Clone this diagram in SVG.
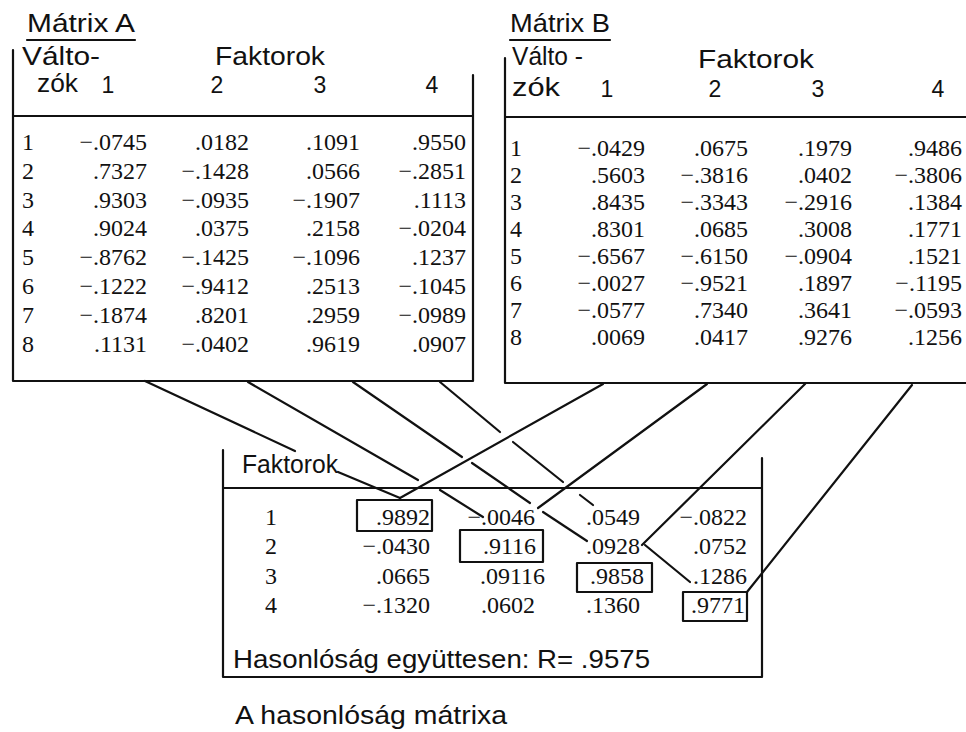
<svg xmlns="http://www.w3.org/2000/svg" width="966" height="732" viewBox="0 0 966 732">
<style>
.bg{fill:#fff}
.ln{stroke:#111;stroke-width:2.2;fill:none;stroke-linecap:round;stroke-linejoin:round}
.lt{font-family:"Liberation Sans",Arial,sans-serif;font-size:25px;fill:#111}
.ch{font-family:"Liberation Sans",Arial,sans-serif;font-size:23px;fill:#111;text-anchor:middle}
.num{font-family:"Liberation Serif","Times New Roman",serif;font-size:24px;fill:#111;text-anchor:end}
.rl{font-family:"Liberation Serif","Times New Roman",serif;font-size:24px;fill:#111}
.rc{font-family:"Liberation Serif","Times New Roman",serif;font-size:24px;fill:#111;text-anchor:middle}
</style>
<rect class="bg" x="0" y="0" width="966" height="732"/>

<g id="matrixA">
  <text class="lt" x="27" y="32" textLength="108" lengthAdjust="spacingAndGlyphs">Mátrix A</text>
  <line class="ln" x1="27" y1="40" x2="135" y2="40"/>
  <path class="ln" d="M13,50 V381 H473 V75"/>
  <line class="ln" x1="13" y1="116" x2="473" y2="116"/>
  <text class="lt" x="22" y="65" textLength="78" lengthAdjust="spacingAndGlyphs">Válto-</text>
  <text class="lt" x="215" y="65" textLength="110" lengthAdjust="spacingAndGlyphs">Faktorok</text>
  <text class="lt" x="37" y="92" textLength="41" lengthAdjust="spacingAndGlyphs">zók</text>
  <text class="ch" x="108" y="93">1</text>
  <text class="ch" x="217" y="93">2</text>
  <text class="ch" x="320" y="93">3</text>
  <text class="ch" x="432" y="93">4</text>
  <g>
    <text class="rl" x="22" y="150">1</text>
    <text class="num" x="147" y="150">−.0745</text><text class="num" x="249" y="150">.0182</text><text class="num" x="360" y="150">.1091</text><text class="num" x="466" y="150">.9550</text>
    <text class="rl" x="22" y="179">2</text>
    <text class="num" x="147" y="179">.7327</text><text class="num" x="249" y="179">−.1428</text><text class="num" x="360" y="179">.0566</text><text class="num" x="466" y="179">−.2851</text>
    <text class="rl" x="22" y="208">3</text>
    <text class="num" x="147" y="208">.9303</text><text class="num" x="249" y="208">−.0935</text><text class="num" x="360" y="208">−.1907</text><text class="num" x="466" y="208">.1113</text>
    <text class="rl" x="22" y="236">4</text>
    <text class="num" x="147" y="236">.9024</text><text class="num" x="249" y="236">.0375</text><text class="num" x="360" y="236">.2158</text><text class="num" x="466" y="236">−.0204</text>
    <text class="rl" x="22" y="265">5</text>
    <text class="num" x="147" y="265">−.8762</text><text class="num" x="249" y="265">−.1425</text><text class="num" x="360" y="265">−.1096</text><text class="num" x="466" y="265">.1237</text>
    <text class="rl" x="22" y="294">6</text>
    <text class="num" x="147" y="294">−.1222</text><text class="num" x="249" y="294">−.9412</text><text class="num" x="360" y="294">.2513</text><text class="num" x="466" y="294">−.1045</text>
    <text class="rl" x="22" y="323">7</text>
    <text class="num" x="147" y="323">−.1874</text><text class="num" x="249" y="323">.8201</text><text class="num" x="360" y="323">.2959</text><text class="num" x="466" y="323">−.0989</text>
    <text class="rl" x="22" y="352">8</text>
    <text class="num" x="147" y="352">.1131</text><text class="num" x="249" y="352">−.0402</text><text class="num" x="360" y="352">.9619</text><text class="num" x="466" y="352">.0907</text>
  </g>
</g>

<g id="matrixB">
  <text class="lt" x="510" y="32" textLength="100" lengthAdjust="spacingAndGlyphs">Mátrix B</text>
  <line class="ln" x1="510" y1="40" x2="610" y2="40"/>
  <path class="ln" d="M505,58 V383 H966"/>
  <line class="ln" x1="505" y1="117" x2="966" y2="117"/>
  <text class="lt" x="512" y="65" textLength="71" lengthAdjust="spacingAndGlyphs">Válto -</text>
  <text class="lt" x="698" y="68" textLength="116" lengthAdjust="spacingAndGlyphs">Faktorok</text>
  <text class="lt" x="512" y="96" textLength="48" lengthAdjust="spacingAndGlyphs">zók</text>
  <text class="ch" x="607" y="97">1</text>
  <text class="ch" x="715" y="97">2</text>
  <text class="ch" x="818" y="97">3</text>
  <text class="ch" x="938" y="97">4</text>
  <g>
    <text class="rl" x="510" y="156">1</text>
    <text class="num" x="645" y="156">−.0429</text><text class="num" x="748" y="156">.0675</text><text class="num" x="852" y="156">.1979</text><text class="num" x="962" y="156">.9486</text>
    <text class="rl" x="510" y="183">2</text>
    <text class="num" x="645" y="183">.5603</text><text class="num" x="748" y="183">−.3816</text><text class="num" x="852" y="183">.0402</text><text class="num" x="962" y="183">−.3806</text>
    <text class="rl" x="510" y="210">3</text>
    <text class="num" x="645" y="210">.8435</text><text class="num" x="748" y="210">−.3343</text><text class="num" x="852" y="210">−.2916</text><text class="num" x="962" y="210">.1384</text>
    <text class="rl" x="510" y="237">4</text>
    <text class="num" x="645" y="237">.8301</text><text class="num" x="748" y="237">.0685</text><text class="num" x="852" y="237">.3008</text><text class="num" x="962" y="237">.1771</text>
    <text class="rl" x="510" y="264">5</text>
    <text class="num" x="645" y="264">−.6567</text><text class="num" x="748" y="264">−.6150</text><text class="num" x="852" y="264">−.0904</text><text class="num" x="962" y="264">.1521</text>
    <text class="rl" x="510" y="291">6</text>
    <text class="num" x="645" y="291">−.0027</text><text class="num" x="748" y="291">−.9521</text><text class="num" x="852" y="291">.1897</text><text class="num" x="962" y="291">−.1195</text>
    <text class="rl" x="510" y="318">7</text>
    <text class="num" x="645" y="318">−.0577</text><text class="num" x="748" y="318">.7340</text><text class="num" x="852" y="318">.3641</text><text class="num" x="962" y="318">−.0593</text>
    <text class="rl" x="510" y="345">8</text>
    <text class="num" x="645" y="345">.0069</text><text class="num" x="748" y="345">.0417</text><text class="num" x="852" y="345">.9276</text><text class="num" x="962" y="345">.1256</text>
  </g>
</g>

<g id="similarity">
  <path class="ln" d="M223,450 V677 H762 V458"/>
  <line class="ln" x1="223" y1="488" x2="762" y2="488"/>
  <text class="lt" x="242" y="473" font-size="24" textLength="96" lengthAdjust="spacingAndGlyphs">Faktorok</text>
  <rect class="ln" x="357" y="500" width="75" height="31"/>
  <rect class="ln" x="460" y="530" width="83" height="32"/>
  <rect class="ln" x="577" y="563" width="75" height="29"/>
  <rect class="ln" x="683" y="592" width="64" height="29"/>
  <text class="rc" x="271" y="525">1</text>
  <text class="num" x="430" y="525">.9892</text><text class="num" x="535" y="525">−.0046</text><text class="num" x="640" y="525">.0549</text><text class="num" x="747" y="525">−.0822</text>
  <text class="rc" x="271" y="554">2</text>
  <text class="num" x="430" y="554">−.0430</text><text class="num" x="536" y="554">.9116</text><text class="num" x="640" y="554">.0928</text><text class="num" x="747" y="554">.0752</text>
  <text class="rc" x="271" y="584">3</text>
  <text class="num" x="430" y="584">.0665</text><text class="num" x="545" y="584">.09116</text><text class="num" x="644" y="584">.9858</text><text class="num" x="747" y="584">.1286</text>
  <text class="rc" x="271" y="613">4</text>
  <text class="num" x="430" y="613">−.1320</text><text class="num" x="535" y="613">.0602</text><text class="num" x="640" y="613">.1360</text><text class="num" x="745" y="613">.9771</text>
  <text class="lt" x="233" y="668" textLength="417" lengthAdjust="spacingAndGlyphs">Hasonlóság együttesen: R= .9575</text>
</g>

<g id="caption">
  <text class="lt" x="235" y="724" textLength="272" lengthAdjust="spacingAndGlyphs">A hasonlóság mátrixa</text>
</g>

<g id="connectors">
  <line class="ln" x1="145" y1="381" x2="295" y2="451"/>
  <line class="ln" x1="338" y1="472" x2="400" y2="498"/>
  <line class="ln" x1="248" y1="382" x2="418" y2="480"/>
  <line class="ln" x1="440" y1="490" x2="483" y2="517"/>
  <line class="ln" x1="353" y1="382" x2="462" y2="457"/>
  <line class="ln" x1="472" y1="463" x2="530" y2="503"/>
  <line class="ln" x1="543" y1="512" x2="587" y2="541"/>
  <line class="ln" x1="440" y1="382" x2="500" y2="432"/>
  <line class="ln" x1="513" y1="442" x2="563" y2="482"/>
  <line class="ln" x1="580" y1="495" x2="593" y2="505"/>
  <line class="ln" x1="603" y1="384" x2="400" y2="498"/>
  <line class="ln" x1="707" y1="384" x2="538" y2="508"/>
  <line class="ln" x1="805" y1="384" x2="642" y2="545"/>
  <line class="ln" x1="645" y1="545" x2="690" y2="582"/>
  <line class="ln" x1="912" y1="385" x2="747" y2="592"/>
</g>
</svg>
